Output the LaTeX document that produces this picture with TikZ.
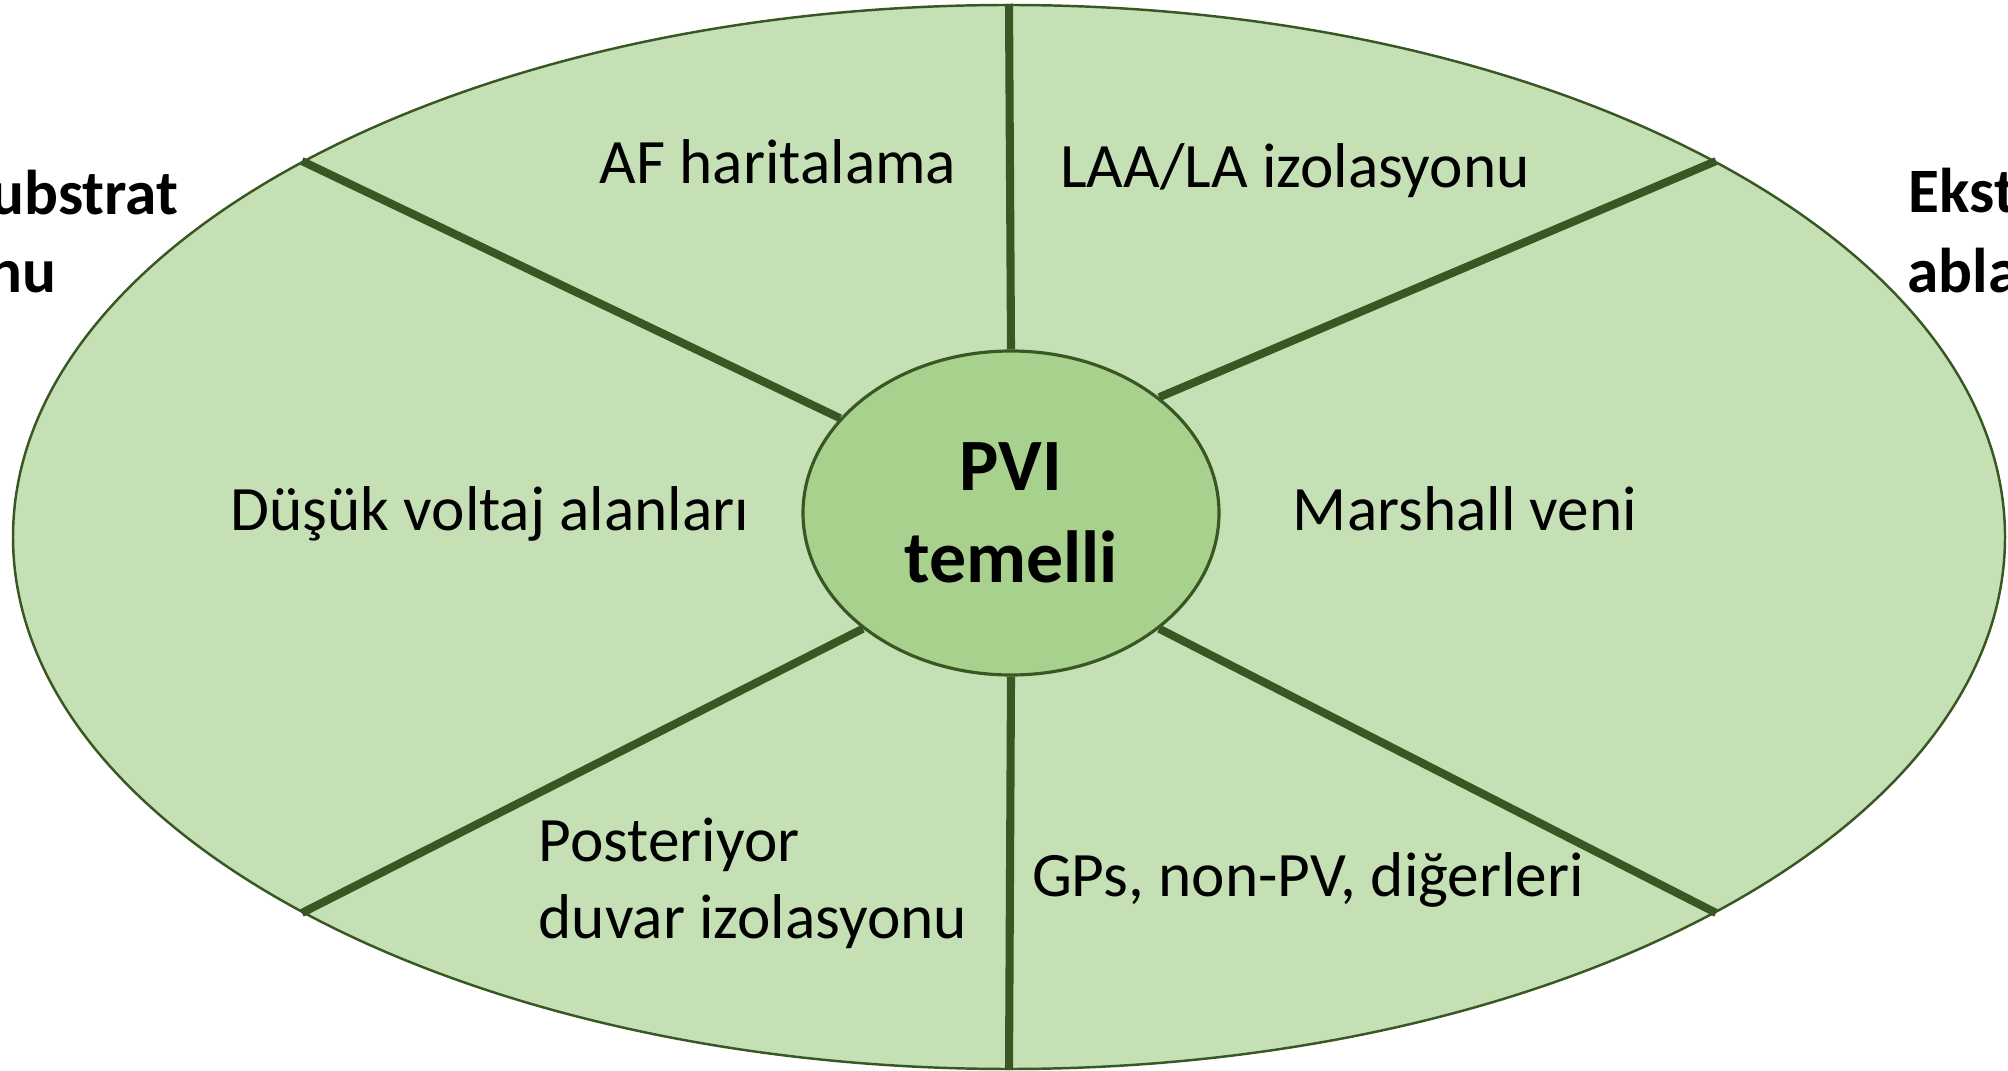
\documentclass[tikz,border=0pt]{standalone}
\usepackage{fontspec}
\setmainfont{Carlito}
\usepackage{xcolor}
\usetikzlibrary{shapes.geometric}
\definecolor{ringfill}{HTML}{C5E0B4}
\definecolor{hubfill}{HTML}{A9D18E}
\definecolor{rimgreen}{HTML}{385723}

\begin{document}
\begin{tikzpicture}
[x=0.1mm,y=-0.1mm,
      ring/.style={ellipse,draw=rimgreen,fill=ringfill,line width=0.7pt,
      minimum width=19.92cm,minimum height=10.64cm,inner sep=0pt},
      hub/.style={ellipse,draw=rimgreen,fill=hubfill,line width=0.9pt,
      minimum width=4.16cm,minimum height=3.24cm,inner sep=0pt,align=center,
      font=\fontsize{21}{26}\selectfont\bfseries},
      spoke/.style={draw=rimgreen,line width=2.3pt},
      sector/.style={font=\fontsize{18}{22}\selectfont,inner sep=0pt},
      side/.style={font=\fontsize{18}{22.5}\selectfont\bfseries,inner sep=0pt}]
 \useasboundingbox (0,0) rectangle (2008,1071);
 \clip (0,0) rectangle (2008,1071);
 \node[ring] (ring) at (1009,537) {};
 \node[hub] (hub) at (1011,513) {PVI\\temelli};
 \draw[spoke] (hub.90) -- (ring.90);
 \draw[spoke] (hub.270) -- (ring.270);
 \draw[spoke] (hub.151) -- (ring.152);
 \draw[spoke] (hub.38) -- (ring.28);
 \draw[spoke] (hub.218) -- (ring.208);
 \draw[spoke] (hub.322) -- (ring.332);
 \node[sector,anchor=base] (afmap) at (778,184) {AF haritalama};
 \node[sector,anchor=base] (laa) at (1295,188) {LAA/LA izolasyonu};
 \node[sector,anchor=base] (lowvolt) at (490,531) {Düşük voltaj alanları};
 \node[sector,anchor=base] (marshall) at (1465,531) {Marshall veni};
 \node[sector,anchor=west,align=left] (posterior) at (538,883)
  {Posteriyor\\duvar izolasyonu};
 \node[sector,anchor=base] (gps) at (1308,896) {GPs, non-PV, diğerleri};
 \node[side,anchor=base east] (substrat) at (179,215) {Substrat};
 \node[side,anchor=base east] (substratb) at (57,293) {ablasyonu};
 \node[side,anchor=base west] (ekstra) at (1908,213) {Ekstra-PV};
 \node[side,anchor=base west] (ekstrab) at (1907,293) {ablasyonu};
\end{tikzpicture}
\end{document}
